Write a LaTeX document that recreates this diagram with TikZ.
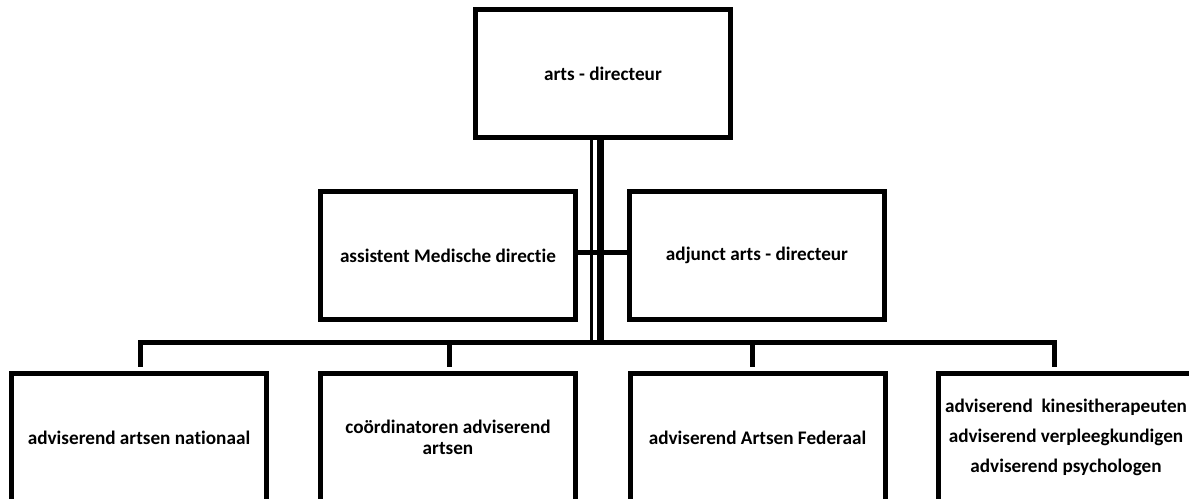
\documentclass[tikz,border=0pt]{standalone}
\usepackage{fontspec}
\setmainfont{Carlito}[Ligatures=NoCommon]
\usepackage{tikz}
\usetikzlibrary{calc}
\tikzset{
    unitbox/.style={draw, line width=3.75pt, minimum width=191.25pt, minimum height=96pt,
        inner sep=0pt, align=center, font=\bfseries\fontsize{14.4}{15.8}\selectfont},
    wire/.style={line width=3.75pt},
    thinwire/.style={line width=2.3pt}
}

\begin{document}
\begin{tikzpicture}[x=0.75pt, y=-0.75pt]
    % Page frame, bottom row runs off the page
    \useasboundingbox (0,0) rectangle (1189,499);
    \clip (0,0) rectangle (1189,499);
    % Director
    \node[unitbox] (dir) at (603,73.5) {arts - directeur};
    % Staff beside the director
    \node[unitbox] (asst) at (448,255.5) {assistent Medische directie};
    \node[unitbox] (adj) at (757,255.5) {adjunct arts - directeur};
    % Bottom row
    \node[unitbox] (nat) at (139,437.5) {adviserend artsen nationaal};
    \node[unitbox] (coord) at (448,437.5) {coördinatoren adviserend\\artsen};
    \node[unitbox] (fed) at (757.5,437.5) {adviserend Artsen Federaal};
    \node[unitbox, font=\bfseries\fontsize{14.4}{22.5}\selectfont] (para) at (1066,437.5)
        {adviserend\ \ kinesitherapeuten\\adviserend verpleegkundigen\\adviserend psychologen};
    % Double stem down from the director
    \draw[thinwire] (dir.south) ++(-11.3,0) -- ++(0,202.5);
    \draw[wire, line width=5pt] (dir.south) ++(-2.3,0) -- ++(0,202.5);
    % Staff line
    \draw[wire] ($(asst.east)+(0,-3)$) -- ($(adj.west)+(0,-3)$);
    % Bus and stubs
    \draw[wire, line cap=rect] ($(nat.north)+(1,-29)$) -- ($(para.north)+(-12,-29)$);
    \foreach \n/\dx in {nat/1, coord/1, fed/-5, para/-12}
        \draw[wire] ($(\n.north)+(\dx,-29)$) -- ($(\n.north)+(\dx,-4)$);
\end{tikzpicture}
\end{document}
